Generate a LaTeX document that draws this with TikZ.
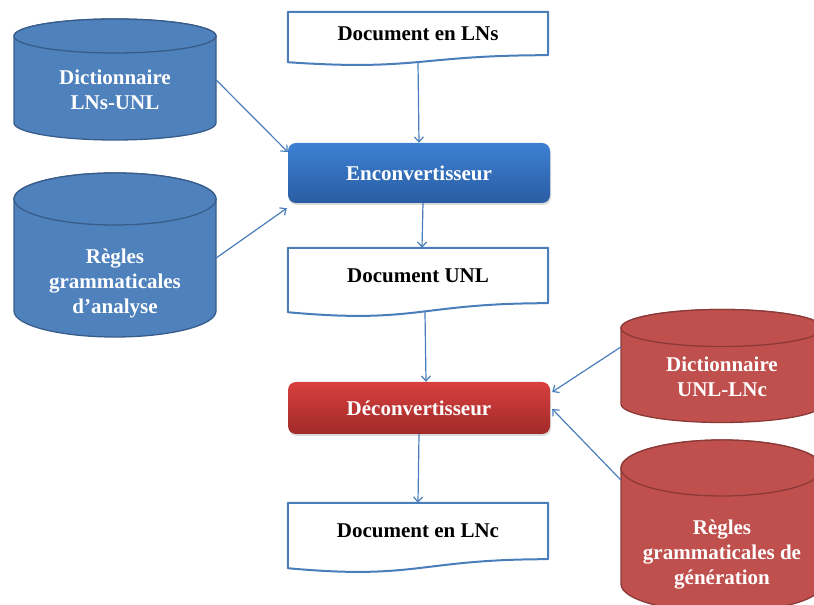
\documentclass[tikz,border=0pt]{standalone}
\usepackage{fontspec}
\setmainfont{Liberation Serif}
\usetikzlibrary{arrows.meta,shadows}
\definecolor{bleucuve}{HTML}{4F81BD}
\definecolor{bleubord}{HTML}{385D8A}
\definecolor{rougecuve}{HTML}{C0504D}
\definecolor{rougebord}{HTML}{8C3A38}
\definecolor{enchaut}{HTML}{3D80D2}
\definecolor{encbas}{HTML}{2A5DA3}
\definecolor{dechaut}{HTML}{D8403E}
\definecolor{decbas}{HTML}{A02A29}
\definecolor{trait}{HTML}{4A7EBB}
\newcommand{\cuve}[5]{%
  \path[#5] (#1-101,#2) -- (#1-101,#3) arc[start angle=180, end angle=360, x radius=101pt, y radius=#4pt]
    -- (#1+101,#2) arc[start angle=0, end angle=180, x radius=101pt, y radius=#4pt] -- cycle;
  \path[#5] (#1,#2) ellipse[x radius=101pt, y radius=#4pt];}
\begin{document}
\begin{tikzpicture}[
			x=1pt, y=1pt,
			line cap=round, line join=round,
			texte/.style={font=\bfseries\fontsize{21}{25}\selectfont},
			docbox/.style={texte, inner sep=0pt, minimum width=260pt},
			docline/.style={draw=trait, line width=2pt},
			cuvebleue/.style={fill=bleucuve, draw=bleubord, line width=1.3pt},
			cuverouge/.style={fill=rougecuve, draw=rougebord, line width=1.3pt},
			cyltext/.style={texte, text=white, align=center, minimum width=202pt, inner sep=0pt},
			procbox/.style={texte, text=white, rounded corners=8pt,
				minimum width=262pt, drop shadow={opacity=0.3, shadow xshift=1pt, shadow yshift=-2pt}},
			edge/.style={draw=trait, line width=1.2pt, -{Straight Barb[length=5pt, width=9pt]}}
			]
			\useasboundingbox (0,0) rectangle (814,605);
			
			\cuve{115}{569}{482}{17}{cuvebleue}
			\node[cyltext] (dico1) at (115,515) {Dictionnaire\\LNs-UNL};
			
			\cuve{115}{406}{294}{26}{cuvebleue}
			\node[cyltext] (regles1) at (115,322) {Règles\\grammaticales\\d’analyse};
			
			\cuve{722}{277}{201}{18.5}{cuverouge}
			\node[cyltext] (dico2) at (722,228) {Dictionnaire\\UNL-LNc};
			
			\cuve{722}{137}{21}{28}{cuverouge}
			\node[cyltext] (regles2) at (722,50) {Règles\\grammaticales de\\génération};
			
			\node[docbox, minimum height=43pt] (doc1) at (418,571.5) {Document en LNs};
			\draw[docline] (doc1.south east) -- (doc1.north east) -- (doc1.north west) -- ([yshift=-7]doc1.south west)
				.. controls ([yshift=-16]doc1.south) and (doc1.south) .. (doc1.south east);
			
			\node[procbox, minimum height=60pt, top color=enchaut, bottom color=encbas] (enc) at (419,432) {Enconvertisseur};
			
			\node[docbox, minimum height=55pt] (doc2) at (418,329.5) {Document UNL};
			\draw[docline] (doc2.south east) -- (doc2.north east) -- (doc2.north west) -- ([yshift=-9]doc2.south west)
				.. controls ([yshift=-21]doc2.south) and (doc2.south) .. (doc2.south east);
			
			\node[procbox, minimum height=52pt, top color=dechaut, bottom color=decbas] (dec) at (419,197) {Déconvertisseur};
			
			\node[docbox, minimum height=56pt] (doc3) at (418,74) {Document en LNc};
			\draw[docline] (doc3.south east) -- (doc3.north east) -- (doc3.north west) -- ([yshift=-9]doc3.south west)
				.. controls ([yshift=-21]doc3.south) and (doc3.south) .. (doc3.south east);
			
			\draw[edge] ([yshift=-7]doc1.south) -- (enc.north);
			\draw[edge] ([yshift=10]dico1.east) -- ([yshift=21]enc.west);
			\draw[edge] ([yshift=25]regles1.east) -- ([xshift=-1,yshift=-5]enc.south west);
			\draw[edge] ([xshift=4]enc.south) -- ([xshift=4]doc2.north);
			\draw[edge] ([xshift=7,yshift=-9]doc2.south) -- ([xshift=7]dec.north);
			\draw[edge] (dec.south) -- (doc3.north);
			\draw[edge] ([yshift=30]dico2.west) -- ([xshift=2,yshift=16]dec.east);
			\draw[edge] ([yshift=75]regles2.west) -- ([xshift=2,yshift=-1]dec.east);
		\end{tikzpicture}
\end{document}
